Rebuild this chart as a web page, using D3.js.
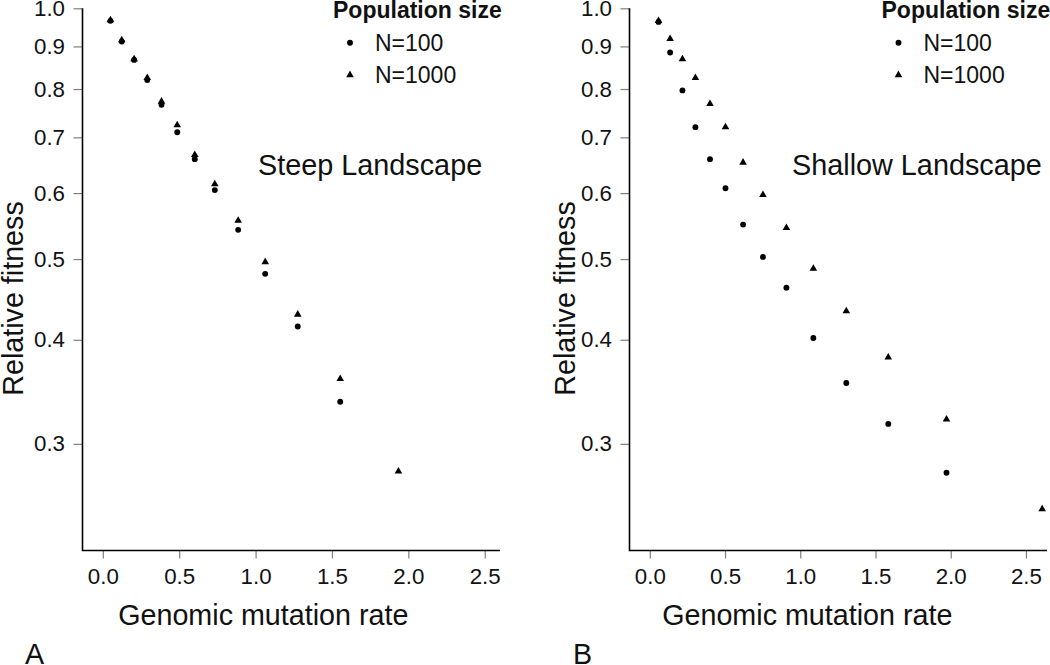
<!DOCTYPE html>
<html>
<head>
<meta charset="utf-8">
<script src="https://cdn.jsdelivr.net/npm/d3@7"></script>
<style>
  html, body { margin: 0; padding: 0; background: #fff; }
  svg { display: block; font-family: "Liberation Sans", Arial, sans-serif; }
</style>
</head>
<body>
<svg id="chart" width="1050" height="665"></svg>
<script>
// ---------- data ----------
const legendTitle = "Population size";
const seriesNames = ["N=100", "N=1000"];
const yTicks = [0.3, 0.4, 0.5, 0.6, 0.7, 0.8, 0.9, 1.0];
const xTicks = [0.0, 0.5, 1.0, 1.5, 2.0, 2.5];

// Panel A: Steep Landscape
const steepRateN100  = [0.050, 0.124, 0.205, 0.291, 0.384, 0.487, 0.602, 0.733, 0.886, 1.063, 1.276, 1.554];
const steepFitN100   = [0.966, 0.912, 0.867, 0.820, 0.766, 0.710, 0.659, 0.605, 0.542, 0.480, 0.415, 0.337];
const steepRateN1000 = [0.050, 0.124, 0.205, 0.291, 0.384, 0.487, 0.602, 0.733, 0.886, 1.063, 1.276, 1.554, 1.935];
const steepFitN1000  = [0.968, 0.916, 0.869, 0.825, 0.773, 0.724, 0.667, 0.615, 0.556, 0.496, 0.429, 0.359, 0.278];

// Panel B: Shallow Landscape
const shallowRateN100  = [0.058, 0.135, 0.217, 0.303, 0.400, 0.503, 0.620, 0.752, 0.908, 1.087, 1.306, 1.585, 1.972];
const shallowFitN100   = [0.963, 0.885, 0.797, 0.720, 0.659, 0.608, 0.550, 0.503, 0.462, 0.402, 0.355, 0.317, 0.277];
const shallowRateN1000 = [0.058, 0.135, 0.217, 0.303, 0.400, 0.503, 0.620, 0.752, 0.908, 1.087, 1.306, 1.585, 1.972, 2.608];
const shallowFitN1000  = [0.966, 0.919, 0.869, 0.825, 0.768, 0.720, 0.653, 0.597, 0.545, 0.487, 0.433, 0.381, 0.321, 0.2505];

const panels = [
  { letter: "A", title: "Steep Landscape",
    n100: steepRateN100.map((x, i) => ({ x, y: steepFitN100[i] })),
    n1000: steepRateN1000.map((x, i) => ({ x, y: steepFitN1000[i] })),
    xDomain: [-0.133, 2.60], xRange: [82.5, 500], xTitleX: 263.3,
    yLabelX: 23, titleX: 258, legendX: 333, letterX: 25 },
  { letter: "B", title: "Shallow Landscape",
    n100: shallowRateN100.map((x, i) => ({ x, y: shallowFitN100[i] })),
    n1000: shallowRateN1000.map((x, i) => ({ x, y: shallowFitN1000[i] })),
    xDomain: [-0.135, 2.64], xRange: [629.5, 1047], xTitleX: 807.3,
    yLabelX: 575, titleX: 792, legendX: 881.5, letterX: 573 }
];

const svg = d3.select("#chart");
const yTop = 8.3, yBottom = 550.5;
const y = d3.scaleLog().domain([0.2234, 1.0]).range([yBottom, yTop]);

const circleSym = d3.symbol().type(d3.symbolCircle).size(27);
const triSym = d3.symbol().type(d3.symbolTriangle).size(25);

panels.forEach(p => {
  const x = d3.scaleLinear().domain(p.xDomain).range(p.xRange);
  const g = svg.append("g");

  // y axis
  const yAxis = d3.axisLeft(y).tickValues(yTicks).tickFormat(d3.format(".1f"))
    .tickSize(9).tickPadding(8.5);
  const ya = g.append("g").attr("transform", `translate(${p.xRange[0]},0)`).call(yAxis);
  ya.select(".domain").remove();
  ya.selectAll(".tick line").attr("stroke", "#7f7f7f").attr("stroke-width", 1.2);
  ya.selectAll(".tick text").attr("font-size", 22.3).attr("fill", "#111")
    .attr("font-family", "Liberation Sans, Arial, sans-serif");

  // x axis
  const xAxis = d3.axisBottom(x).tickValues(xTicks).tickFormat(d3.format(".1f"))
    .tickSize(8).tickPadding(10);
  const xa = g.append("g").attr("transform", `translate(0,${yBottom})`).call(xAxis);
  xa.select(".domain").remove();
  xa.selectAll(".tick line").attr("stroke", "#7f7f7f").attr("stroke-width", 1.2);
  xa.selectAll(".tick text").attr("font-size", 22.3).attr("fill", "#111")
    .attr("font-family", "Liberation Sans, Arial, sans-serif");

  // L-shaped box
  g.append("path")
    .attr("d", `M${p.xRange[0]},${yTop}V${yBottom}H${p.xRange[1]}`)
    .attr("fill", "none").attr("stroke", "#000").attr("stroke-width", 1.6);

  // axis titles
  g.append("text")
    .attr("x", p.xTitleX).attr("y", 625)
    .attr("text-anchor", "middle").attr("font-size", 28.7).attr("fill", "#111")
    .text("Genomic mutation rate");
  g.append("text")
    .attr("transform", `translate(${p.yLabelX},298.5) rotate(-90)`)
    .attr("text-anchor", "middle").attr("font-size", 28.7).attr("fill", "#111")
    .text("Relative fitness");

  // panel title inside
  g.append("text").attr("x", p.titleX).attr("y", 175)
    .attr("font-size", 28.8).attr("fill", "#111").text(p.title);

  // panel letter
  g.append("text").attr("x", p.letterX).attr("y", 664)
    .attr("font-size", 28.7).attr("fill", "#111").text(p.letter);

  // points
  g.selectAll(".c100").data(p.n100).join("path").attr("class", "c100")
    .attr("d", circleSym).attr("fill", "#000")
    .attr("transform", d => `translate(${x(d.x)},${y(d.y)})`);
  g.selectAll(".t1000").data(p.n1000).join("path").attr("class", "t1000")
    .attr("d", triSym).attr("fill", "#000")
    .attr("transform", d => `translate(${x(d.x)},${y(d.y)})`);

  // legend
  const lg = g.append("g");
  lg.append("text").attr("x", p.legendX).attr("y", 18)
    .attr("font-size", 23).attr("font-weight", "bold").attr("fill", "#111").text(legendTitle);
  const legendRows = [{ name: seriesNames[0], sym: circleSym, cy: 42.7 },
                      { name: seriesNames[1], sym: triSym, cy: 75 }];
  legendRows.forEach(r => {
    lg.append("path").attr("d", r.sym).attr("fill", "#000")
      .attr("transform", `translate(${p.legendX + 17},${r.cy})`);
    lg.append("text").attr("x", p.legendX + 42).attr("y", r.cy + 8.2)
      .attr("font-size", 23).attr("fill", "#111").text(r.name);
  });
});
</script>
</body>
</html>
